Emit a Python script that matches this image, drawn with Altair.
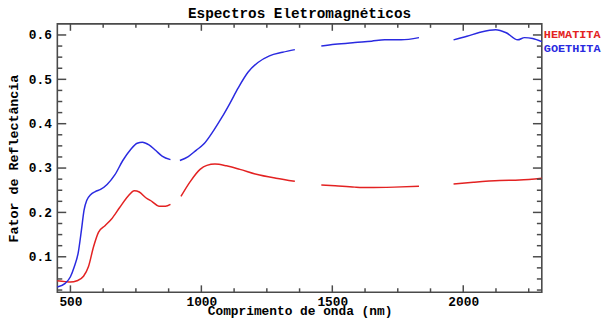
import altair as alt
import pandas as pd

# ---- data (None marks a gap in the spectrum) ----
hem_nm = [450, 480, 500, 525, 550, 569, 588, 607, 632, 657, 688, 719, 744, 763, 788, 813, 838, 863, 882, None,
          922, 958, 995, 1021, 1052, 1096, 1147, 1210, 1285, 1357, None,
          1458, 1511, 1586, 1637, 1737, 1831, None,
          1963, 2039, 2139, 2215, 2300]
hem_r = [0.046, 0.044, 0.043, 0.046, 0.056, 0.078, 0.122, 0.155, 0.170, 0.185, 0.211, 0.236, 0.249, 0.246, 0.233, 0.224, 0.214, 0.214, 0.218, None,
         0.236, 0.270, 0.297, 0.306, 0.309, 0.305, 0.297, 0.286, 0.277, 0.270, None,
         0.262, 0.260, 0.257, 0.256, 0.257, 0.259, None,
         0.264, 0.268, 0.272, 0.273, 0.277]

goe_nm = [450, 480, 500, 515, 530, 542, 552, 563, 577, 595, 615, 640, 670, 700, 730, 755, 775, 800, 825, 850, 882, None,
          918, 950, 980, 1009, 1046, 1077, 1109, 1140, 1178, 1216, 1260, 1310, 1357, None,
          1458, 1510, 1586, 1650, 1700, 1763, 1831, None,
          1963, 2014, 2064, 2124, 2164, 2208, 2234, 2265, 2300]
goe_r = [0.032, 0.040, 0.055, 0.078, 0.110, 0.160, 0.205, 0.228, 0.240, 0.247, 0.252, 0.263, 0.285, 0.317, 0.342, 0.356, 0.358, 0.352, 0.340, 0.327, 0.319, None,
         0.317, 0.326, 0.340, 0.354, 0.384, 0.413, 0.446, 0.480, 0.516, 0.538, 0.553, 0.561, 0.567, None,
         0.575, 0.579, 0.583, 0.586, 0.589, 0.589, 0.594, None,
         0.589, 0.597, 0.606, 0.612, 0.605, 0.589, 0.594, 0.592, 0.585]

minerals = ["HEMATITA", "GOETHITA"]
colors = ["#e32222", "#2a2ae0"]

x_major = [500, 1000, 1500, 2000]
x_minor = [625, 750, 875, 1125, 1250, 1375, 1625, 1750, 1875, 2125, 2250]
y_major = [0.1, 0.2, 0.3, 0.4, 0.5, 0.6]
y_minor = [0.025, 0.05, 0.075, 0.125, 0.15, 0.175, 0.225, 0.25, 0.275, 0.325, 0.35, 0.375,
           0.425, 0.45, 0.475, 0.525, 0.55, 0.575]

# ---- build table ----
rows = []
for name, xs, ys in [("HEMATITA", hem_nm, hem_r), ("GOETHITA", goe_nm, goe_r)]:
    seg = 0
    for a, b in zip(xs, ys):
        if a is None:
            seg += 1
            continue
        rows.append({"mineral": name, "seg": f"{name}-{seg}", "nm": a, "r": b})
df = pd.DataFrame(rows)

W, H = 491, 272
FONT = "Liberation Mono"
FRAME = "#4a4a4a"

xscale = alt.Scale(domain=[450, 2300], nice=False, zero=False)
yscale = alt.Scale(domain=[0.02, 0.625], nice=False, zero=False)
xaxis = alt.Axis(values=x_major, title="Comprimento de onda (nm)", format="d",
                 ticks=False, tickSize=0, domain=False, grid=False,
                 labelPadding=3, titlePadding=-3,
                 labelFont=FONT, labelFontSize=13, labelFontWeight="bold", labelColor="black",
                 titleFont=FONT, titleFontSize=13, titleFontWeight="bold", titleColor="black")
yaxis = alt.Axis(values=y_major, title="Fator de Reflectância", format=".1f",
                 ticks=False, tickSize=0, domain=False, grid=False,
                 labelPadding=6, titlePadding=8,
                 labelFont=FONT, labelFontSize=13, labelFontWeight="bold", labelColor="black",
                 titleFont=FONT, titleFontSize=13.5, titleFontWeight="bold", titleColor="black")

lines = alt.Chart(df).mark_line(strokeWidth=1.5, interpolate="monotone").encode(
    x=alt.X("nm:Q", scale=xscale, axis=xaxis, title="Comprimento de onda (nm)"),
    y=alt.Y("r:Q", scale=yscale, axis=yaxis, title="Fator de Reflectância"),
    color=alt.Color("mineral:N", scale=alt.Scale(domain=minerals, range=colors), legend=None),
    detail="seg:N",
)

xmaj_df = pd.DataFrame({"t": x_major})
xmin_df = pd.DataFrame({"t": x_minor})
ymaj_df = pd.DataFrame({"t": y_major})
ymin_df = pd.DataFrame({"t": y_minor})

def xticks(d, length):
    base = alt.Chart(d).mark_rule(color=FRAME, strokeWidth=1.5)
    enc_x = alt.X("t:Q", scale=xscale, axis=xaxis, title="Comprimento de onda (nm)")
    bottom = base.encode(x=enc_x, y=alt.value(H), y2=alt.value(H - length))
    top = base.encode(x=enc_x, y=alt.value(0), y2=alt.value(length))
    return [bottom, top]

def yticks(d, length):
    base = alt.Chart(d).mark_rule(color=FRAME, strokeWidth=1.5)
    enc_y = alt.Y("t:Q", scale=yscale, axis=yaxis, title="Fator de Reflectância")
    left = base.encode(y=enc_y, x=alt.value(0), x2=alt.value(length))
    right = base.encode(y=enc_y, x=alt.value(W), x2=alt.value(W - length))
    return [left, right]

tick_layers = xticks(xmaj_df, 7) + xticks(xmin_df, 4) + yticks(ymaj_df, 9) + yticks(ymin_df, 5)

lab_h = alt.Chart(pd.DataFrame({"label": [minerals[0]]})).mark_text(
    align="left", baseline="middle", font=FONT, fontSize=12, fontWeight="bold", color=colors[0]
).encode(text="label:N", x=alt.value(W + 2), y=alt.value(10.5))
lab_g = alt.Chart(pd.DataFrame({"label": [minerals[1]]})).mark_text(
    align="left", baseline="middle", font=FONT, fontSize=12, fontWeight="bold", color=colors[1]
).encode(text="label:N", x=alt.value(W + 2), y=alt.value(24))

chart = alt.layer(lines, *tick_layers, lab_h, lab_g).properties(
    width=W, height=H, background="white",
    title=alt.TitleParams("Espectros Eletromagnéticos", font=FONT, fontSize=14.5,
                          fontWeight="bold", color="black", anchor="middle", offset=2),
    autosize=alt.AutoSizeParams(type="none"),
    padding={"left": 50, "top": 14, "right": 61, "bottom": 25},
).configure_view(
    stroke=FRAME, strokeWidth=1.6
)

chart.save("out.html", embed_options={"renderer": "svg", "actions": False})
